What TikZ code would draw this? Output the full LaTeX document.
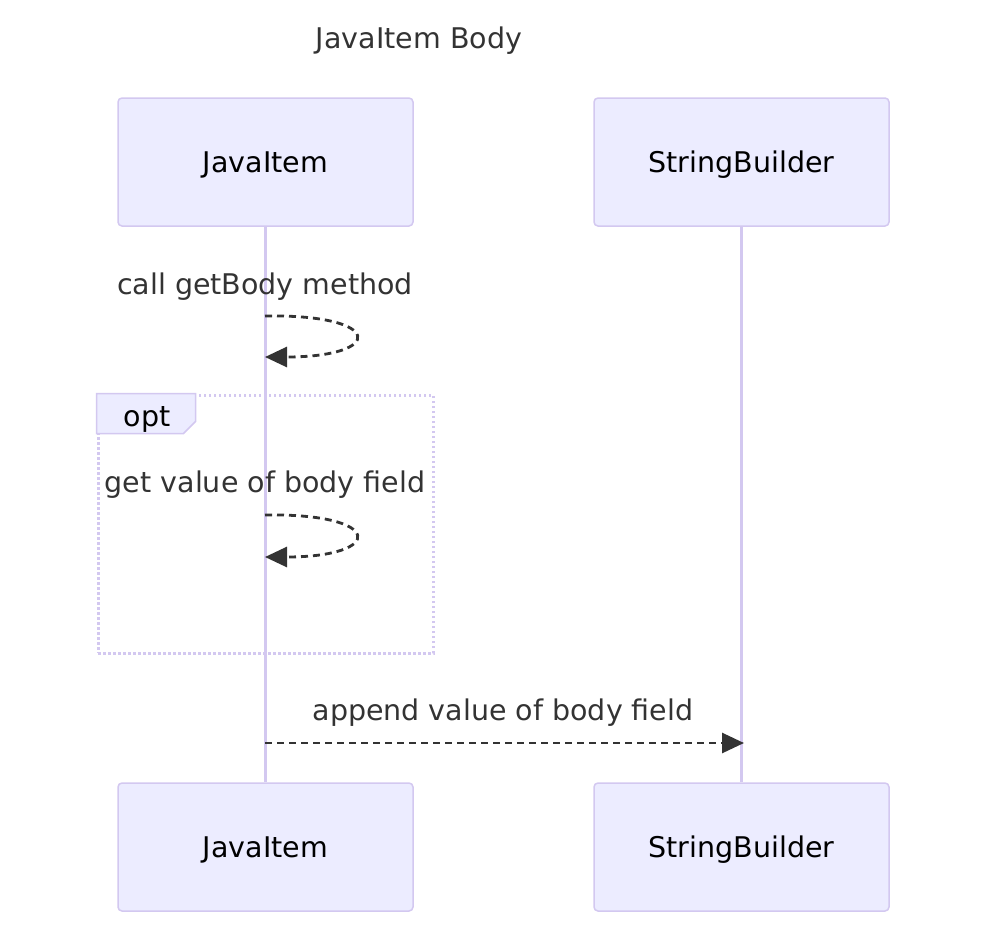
\documentclass[tikz,border=0pt]{standalone}
\usepackage{fontspec}
\setmainfont{DejaVu Sans}
\usetikzlibrary{arrows.meta}
\definecolor{actfill}{HTML}{ECECFF}
\definecolor{actline}{HTML}{D3C8F0}
\definecolor{arrowc}{HTML}{333333}
\definecolor{labc}{HTML}{333333}
\newcommand{\actortext}[1]{\raisebox{-10.5pt}[0pt][0pt]{#1}}
\begin{document}
\begin{tikzpicture}[x=1pt,y=-1pt,
  actor/.style={draw=actline, fill=actfill, line width=1.5pt, rounded corners=4pt,
    minimum width=295pt, minimum height=128pt, inner sep=0pt, text=black,
    font=\fontsize{28.5}{33}\selectfont},
  life/.style={draw=actline, line width=3pt},
  msg/.style={draw=arrowc, line width=2.8pt, dash pattern=on 7pt off 5pt,
    -{Triangle[length=22pt,width=20pt]}},
  lbl/.style={text=labc, inner sep=0pt, font=\fontsize{28.5}{33}\selectfont},
  optframe/.style={draw=actline, line width=3pt, dash pattern=on 2.5pt off 2.5pt,
    minimum width=335pt, minimum height=258pt, inner sep=0pt},
  opttab/.style={draw=actline, fill=actfill, line width=1.5pt},
]
\useasboundingbox (0,0) rectangle (1004,948);
% title
\node[lbl] (title) at (419,41) {JavaItem Body};
% actors
\node[actor] (jt) at (265.5,162) {\actortext{JavaItem}};
\node[actor] (st) at (741.5,162) {\actortext{StringBuilder}};
\node[actor] (jb) at (265.5,847) {\actortext{JavaItem}};
\node[actor] (sb) at (741.5,847) {\actortext{StringBuilder}};
\draw[life] (jt.south) -- (jb.north);
\draw[life] (st.south) -- (sb.north);
% message 1: self loop
\node[lbl] (m1) at (265,287) {call getBody method};
\coordinate (l1a) at (265,316);
\coordinate (l1b) at (265,357);
\draw[msg] (l1a) .. controls (385,314) and (385,357) .. (l1b);
% opt frame
\node[optframe] (opt) at (265.5,524) {};
\draw[opttab] (opt.north west) -- ++(99,0) -- ++(0,28) -- ++(-12,12) -- ++(-87,0) -- cycle;
\node[lbl, text=black] (optl) at (147,419) {opt};
% message 2: self loop inside opt
\node[lbl] (m2) at (265,485) {get value of body field};
\coordinate (l2a) at (265,515);
\coordinate (l2b) at (265,557);
\draw[msg] (l2a) .. controls (385,513) and (385,557) .. (l2b);
% message 3
\node[lbl] (m3) at (503,713) {append value of body field};
\coordinate (a3) at (265,743);
\coordinate (b3) at (744,743);
\draw[msg] (a3) -- (b3);
\end{tikzpicture}
\end{document}
